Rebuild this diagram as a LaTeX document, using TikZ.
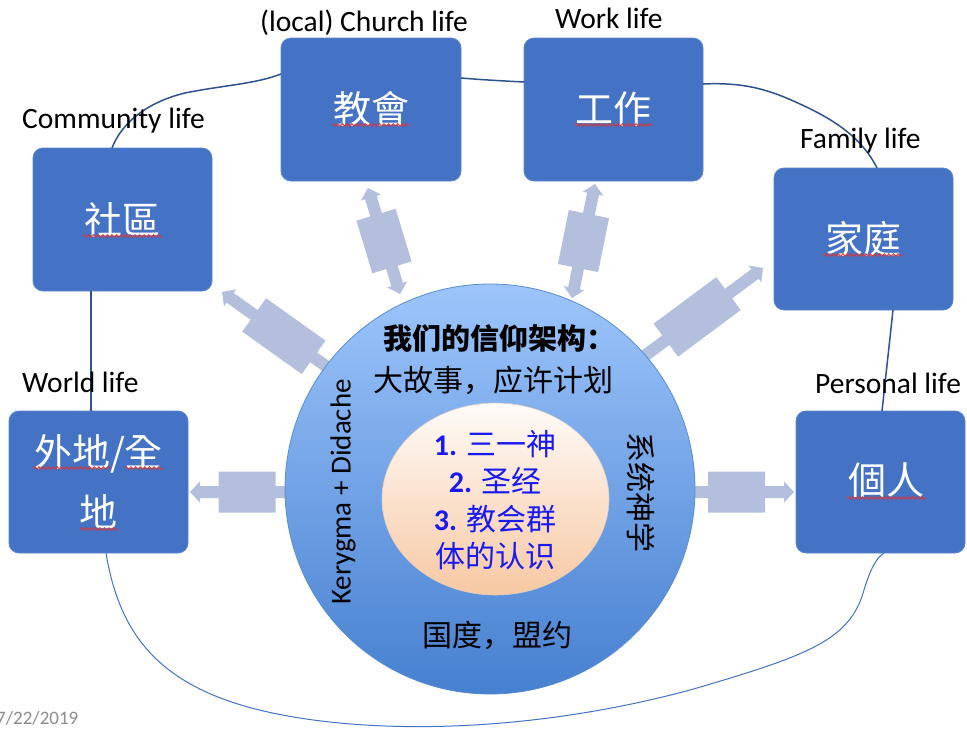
\documentclass[tikz,border=0pt]{standalone}
\usepackage{fontspec}
\setmainfont{Carlito}
\newfontfamily\cjksc{Noto Sans CJK SC}
\newfontfamily\cjktc{Noto Sans CJK TC}
\usetikzlibrary{calc,shapes.geometric,decorations.pathmorphing}

\definecolor{boxblue}{RGB}{68,114,196}
\definecolor{boxedge}{RGB}{92,132,204}
\definecolor{linkblue}{RGB}{47,82,143}
\definecolor{linklight}{RGB}{68,114,196}
\definecolor{arrowfill}{RGB}{179,191,221}
\definecolor{circtop}{RGB}{157,197,251}
\definecolor{circbot}{RGB}{70,128,208}
\definecolor{circedge}{RGB}{90,140,210}
\definecolor{ovaltop}{RGB}{254,251,248}
\definecolor{ovalbot}{RGB}{247,200,163}
\definecolor{ovaledge}{RGB}{225,205,190}
\definecolor{innerblue}{RGB}{25,25,240}
\definecolor{squiggle}{RGB}{222,52,52}
\definecolor{dategray}{RGB}{140,140,140}

% block arrow: #1 tail coordinate, #2 tip coordinate,
% #3 distance tip -> block centre, #4 block length, #5 = 1 for double head
\newcommand{\blockarrow}[5]{%
  \path let \p1=($(#2)-(#1)$) in
    \pgfextra{\pgfmathsetmacro\arang{atan2(\y1,\x1)}%
              \pgfmathsetmacro\arlen{veclen(\x1,\y1)}%
              \global\let\arang\arang\global\let\arlen\arlen};
  \pgfmathsetmacro\bA{\arlen-#3-#4/2}%
  \pgfmathsetmacro\bB{\arlen-#3+#4/2}%
  \pgfmathsetmacro\hB{\arlen-10}%
  \begin{scope}[shift={(#1)},rotate=\arang]
    \ifnum#5=1
      \fill[arrowfill] (0,0) -- (10,-10.5) -- (10,-6) -- (\bA,-6) -- (\bA,-20.5) -- (\bB,-20.5)
        -- (\bB,-6) -- (\hB,-6) -- (\hB,-10.5) -- (\arlen,0) -- (\hB,10.5) -- (\hB,6)
        -- (\bB,6) -- (\bB,20.5) -- (\bA,20.5) -- (\bA,6) -- (10,6) -- (10,10.5) -- cycle;
    \else
      \fill[arrowfill] (0,-6) -- (\bA,-6) -- (\bA,-20.5) -- (\bB,-20.5)
        -- (\bB,-6) -- (\hB,-6) -- (\hB,-10.5) -- (\arlen,0) -- (\hB,10.5) -- (\hB,6)
        -- (\bB,6) -- (\bB,20.5) -- (\bA,20.5) -- (\bA,6) -- (0,6) -- cycle;
    \fi
  \end{scope}}

\tikzset{
  lifebox/.style={rectangle, rounded corners=10pt, fill=boxblue, draw=boxedge, line width=0.8pt,
    inner sep=0pt, outer sep=0pt, text=white, align=center,
    font=\cjktc\fontsize{38}{60}\selectfont},
  lifelabel/.style={anchor=base west, inner sep=0pt, font=\fontsize{29.5}{30}\selectfont},
  link/.style={draw=linkblue, line width=1.5pt},
  wavy/.style={draw=squiggle, line width=0.9pt, decorate,
    decoration={snake, segment length=4.6pt, amplitude=1.3pt}},
  circtext/.style={inner sep=0pt, font=\cjksc\fontsize{30}{30}\selectfont}
}

\begin{document}
\begin{tikzpicture}[x=1pt,y=-1pt]
\useasboundingbox (0,0) rectangle (967,732);
\fill[white] (0,0) rectangle (967,732);

% boxes
\node[lifebox, minimum width=179, minimum height=143] (bcomm)   at (122.5,219.5) {社區};
\node[lifebox, minimum width=180, minimum height=143] (bchurch) at (371,109.5) {教會};
\node[lifebox, minimum width=179, minimum height=143] (bwork)   at (613.5,109.5) {工作};
\node[lifebox, minimum width=179, minimum height=142] (bfamily) at (863.5,239) {家庭};
\node[lifebox, minimum width=179, minimum height=142] (bworld)  at (98.5,482) {外地/全\\地};
\node[lifebox, minimum width=169, minimum height=142] (bperson) at (880.5,482) {};
\node[inner sep=0pt, text=white, font=\cjktc\fontsize{38}{60}\selectfont] (tperson) at (886,480) {個人};

% spell-check squiggles
\draw[wavy] (83,236) -- (162,236);
\draw[wavy] (332,125) -- (410,125);
\draw[wavy] (575,125) -- (653,125);
\draw[wavy] (823,255) -- (903,255);
\draw[wavy] (33,468) -- (110,468);
\draw[wavy] (125,468) -- (163,468);
\draw[wavy] (80,529) -- (118,529);
\draw[wavy] (847,498) -- (926,498);

% connectors between boxes
\draw[link] ($(bcomm.north)+(-10.5,0)$) .. controls (122,122) and (148,102) .. (185,93)
  .. controls (225,85) and (255,84) .. ($(bchurch.west)+(0,-35.5)$);
\draw[link] ($(bchurch.east)+(0,-31.5)$) .. controls (485,80) and (505,81) .. ($(bwork.west)+(0,-27.5)$);
\draw[link] ($(bwork.east)+(0,-25.5)$) .. controls (745,82) and (770,90) .. (800,104)
  .. controls (835,120) and (862,138) .. ($(bfamily.north)+(13.5,0)$);
\draw[link] ($(bfamily.south)+(29.5,0)$) -- ($(bperson.north)+(1.5,0)$);
\draw[link] ($(bcomm.south)+(-31.5,0)$) -- ($(bworld.north)+(-7.5,0)$);
\draw[draw=linklight, line width=1pt] ($(bworld.south)+(7.5,0)$) .. controls (122,650) and (175,705) .. (330,722)
  .. controls (430,733) and (560,725) .. (690,690)
  .. controls (810,655) and (850,640) .. (864,590)
  .. controls (870,570) and (876,558) .. ($(bperson.south)+(3.5,0)$);

% block arrows (ends)
\coordinate (aComTail) at (344,379);   \coordinate (aComTip) at (222,292);
\coordinate (aChuTail) at (400,294);   \coordinate (aChuTip) at (368,188);
\coordinate (aWorTail) at (572,298);   \coordinate (aWorTip) at (595,184);
\coordinate (aFamTail) at (634.5,363.4); \coordinate (aFamTip) at (763,268);
\coordinate (aWldTail) at (310,492);   \coordinate (aWldTip) at (190,492);
\coordinate (aPerTail) at (670,492);   \coordinate (aPerTip) at (794,492);
\blockarrow{aComTail}{aComTip}{76}{73}{0}
\blockarrow{aChuTail}{aChuTip}{55.4}{55}{1}
\blockarrow{aWorTail}{aWorTip}{58.2}{55}{1}
\blockarrow{aFamTail}{aFamTip}{82}{78}{0}
\blockarrow{aWldTail}{aWldTip}{57}{57}{0}
\blockarrow{aPerTail}{aPerTip}{57.5}{57}{0}

% central circle
\node[circle, minimum size=410, inner sep=0pt, top color=circtop, bottom color=circbot,
  draw=circedge, line width=0.8pt] (core) at (490,489) {};
\node[ellipse, minimum width=227, minimum height=192, inner sep=0pt, top color=ovaltop,
  bottom color=ovalbot, draw=ovaledge, line width=0.6pt] (inner) at (495.5,499) {};

\node[circtext, font=\cjksc\bfseries\fontsize{29}{29}\selectfont] (title) at (499,338) {我们的信仰架构：};
\node[circtext] (story) at (493,380) {大故事，应许计划};
\node[circtext] (kingdom) at (497.5,635) {国度，盟约};
\node[circtext, rotate=-90] (systheo) at (641,492) {系统神学};
\node[inner sep=0pt, rotate=90, font=\fontsize{29}{29}\selectfont] (kery) at (343,492) {Kerygma + Didache};
\node[inner sep=0pt, align=center, text=innerblue, font=\cjksc\fontsize{30}{37.5}\selectfont] (faith) at (495,500)
  {{\rmfamily\bfseries 1.} 三一神\\{\rmfamily\bfseries 2.} 圣经\\{\rmfamily\bfseries 3.} 教会群\\体的认识};

% labels
\node[lifelabel] (lchurch) at (260,31) {(local) Church life};
\node[lifelabel] (lwork) at (555,28) {Work life};
\node[lifelabel] (lfamily) at (800,148) {Family life};
\node[lifelabel] (lcomm) at (22,128) {Community life};
\node[lifelabel] (lworld) at (22,392) {World life};
\node[lifelabel] (lperson) at (815,393) {Personal life};

\node[anchor=base west, inner sep=0pt, text=dategray, font=\fontsize{19}{19}\selectfont] (date) at (-4,724) {7/22/2019};
\end{tikzpicture}
\end{document}
